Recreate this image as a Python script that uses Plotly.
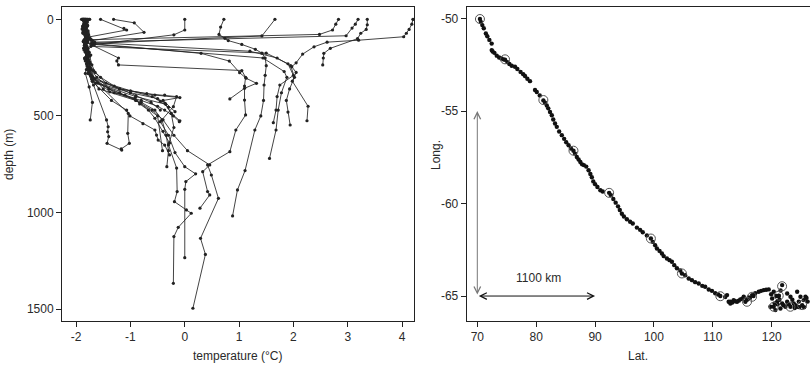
import plotly.graph_objects as go

# ---------------- Left panel: temperature profiles (T in °C, depth in m) -------------
profile_temp = [
    [4.20, 4.18, 4.13, 4.08, 4.03, 3.20, 2.62, 2.38, 2.17, 2.05, 1.97, 2.05, 1.98, 2.27, 2.25],
    [3.36, 3.36, 3.34, 3.24, 3.18, 2.68, 2.56, 2.55, 2.54],
    [3.19, 3.14, 3.08, 2.97, -1.66],
    [2.83, 2.78, 2.72, 2.48, -1.72],
    [1.66, 1.42, -1.68],
    [0.72, 0.66, 0.63, 0.74, 0.80, 1.05, 1.30, 1.42, 1.48, 1.50, 1.48, 1.46, 1.45, 1.40, 1.29, 1.11, 0.97, 0.88],
    [0.00, 0.00, -0.20, -1.70],
    [-1.55, -1.12, -1.07, -1.78],
    [-1.31, -0.93, -0.75, -1.70],
    [-1.84, -1.79, -1.83, -1.76, -1.72, 0.30, 0.82, 1.01, 1.13, 1.32, 1.10, 0.83],
    [-1.80, -1.86, -1.77, -1.82, -1.22, -1.25, -1.22, 1.05, 1.12, 1.10, 1.10, 1.12, 0.94, 0.83, 0.42, 0.49, 0.62, 0.29, 0.38, 0.15],
    [-1.76, -1.82, -1.74, -1.66, 1.44, 1.83, 1.88, 1.78, 1.72, 1.68, 1.56],
    [-1.88, -1.78, -1.70, 1.20, 1.70, 1.95, 2.02, 1.93, 1.87, 1.90, 1.94],
    [-1.83, -1.87, -1.73, 1.50, 1.90, 2.00, 1.75, 1.70, 1.68, 1.63],
    [-1.90, -1.86, -1.89, -1.82, -1.87, -1.80, -1.84, -1.76, -1.70, -1.38, -1.10, -0.92, -0.83, -0.67, -0.55, -0.40, -0.28],
    [-1.85, -1.80, -1.86, -1.78, -1.84, -1.76, -1.80, -1.72, -1.66, -1.20, -0.70, -0.37, -0.15, -0.21, -0.45, -0.30, -0.18, 0.00, 0.20, 0.02, 0.00, 0.00],
    [-1.89, -1.84, -1.87, -1.80, -1.85, -1.79, -1.74, -1.77, -1.60, -1.00, -0.50, -0.36, -0.25, -0.20, -0.30, -0.15, -0.14, -0.19, 0.03, 0.12, -0.12, -0.20, -0.21],
    [-1.82, -1.88, -1.83, -1.86, -1.79, -1.83, -1.76, -1.70, -1.74],
    [-1.87, -1.81, -1.85, -1.79, -1.83, -1.75, -1.78, -1.68, -1.44, -1.41, -1.42, -1.40, -1.43, -1.16],
    [-1.78, -1.85, -1.80, -1.84, -1.77, -1.81, -1.72, -1.50, -1.04, -1.05, -1.02, -1.17],
    [-1.86, -1.83, -1.88, -1.81, -1.85, -1.78, -1.81, -1.70, -1.20, -0.80, -0.55, -0.42, -0.34, -0.30, -0.33],
    [-1.81, -1.87, -1.82, -1.86, -1.80, -1.84, -1.77, -1.71, -1.58, -0.90, -0.50, -0.41],
    [-1.87, -1.82, -1.86, -1.79, -1.84, -1.77, -1.80, -1.73, -1.64, -0.90, -0.35, -0.25, -0.09],
    [-1.75, -1.84, -1.79, -1.85, -1.78, -1.82, -1.74, -1.69, -1.20, -0.55, -0.09, -0.40, -0.18],
    [-1.84, -1.79, -1.85, -1.80, -1.86, -1.79, -1.75, -1.62, -1.30, -0.80, -0.50, -0.37, -0.21, -0.10],
    [-1.88, -1.85, -1.81, -1.86, -1.79, -1.84, -1.76, -1.70, -1.40, -0.90, -0.60, -0.40, -0.20, 0.05, 0.46, 0.33, 0.42, 0.46, 0.28],
    [-1.83, -1.88, -1.82, -1.85, -1.80, -1.83, -1.77, -1.70, -1.35, -1.07, -1.01, -0.77, -0.55, -0.52, -0.49, -0.37, -0.28],
    [-1.79, -1.85, -1.81, -1.86, -1.78, -1.82, -1.75, -1.71, -1.65, -1.45, -1.00, -0.60, -0.45, -0.30],
    [-1.86, -1.80, -1.84, -1.78, -1.83, -1.80, -1.73, -1.77, -1.68, -1.55, -1.30, -0.90, -0.62, -0.45],
]
profile_depth = [
    [0, 25, 52, 72, 90, 108, 118, 142, 180, 225, 245, 275, 320, 450, 525],
    [0, 28, 52, 72, 100, 150, 176, 200, 236],
    [0, 25, 45, 85, 118],
    [0, 25, 55, 78, 105],
    [0, 86, 125],
    [0, 40, 78, 98, 110, 130, 155, 175, 200, 240, 290, 340, 420, 500, 573, 783, 883, 1018],
    [0, 55, 80, 132],
    [0, 47, 55, 92],
    [0, 18, 67, 110],
    [0, 35, 70, 100, 125, 176, 216, 276, 305, 331, 357, 412],
    [0, 40, 80, 118, 200, 215, 236, 265, 300, 345, 418, 495, 573, 685, 754, 806, 927, 1134, 1217, 1496],
    [0, 50, 100, 130, 200, 270, 300, 380, 470, 573, 720],
    [0, 60, 120, 165, 200, 240, 300, 360, 420, 480, 547],
    [0, 60, 140, 175, 230, 290, 340, 400, 470, 535],
    [0, 25, 50, 80, 115, 160, 200, 250, 300, 375, 392, 409, 438, 470, 512, 580, 640],
    [0, 30, 60, 95, 130, 170, 215, 260, 310, 360, 385, 392, 400, 452, 530, 600, 690, 763, 800, 840, 880, 1234],
    [0, 28, 55, 90, 135, 180, 230, 280, 330, 380, 410, 435, 487, 560, 650, 770, 892, 944, 987, 1004, 1077, 1125, 1367],
    [0, 40, 90, 150, 210, 280, 350, 430, 521],
    [0, 35, 75, 120, 170, 220, 280, 340, 521, 556, 582, 607, 642, 677],
    [0, 40, 80, 130, 180, 230, 290, 360, 487, 590, 642, 671],
    [0, 30, 70, 110, 160, 210, 260, 320, 380, 430, 470, 520, 600, 680, 763],
    [0, 35, 75, 115, 160, 205, 255, 310, 360, 420, 500, 680],
    [0, 25, 60, 100, 145, 190, 240, 290, 330, 400, 440, 487, 525],
    [0, 30, 65, 105, 150, 200, 250, 300, 360, 392, 405, 420, 478],
    [0, 30, 65, 105, 150, 200, 250, 300, 380, 420, 450, 470, 500, 530],
    [0, 30, 70, 110, 155, 200, 250, 300, 360, 420, 470, 520, 600, 680, 754, 789, 892, 909, 978],
    [0, 35, 75, 120, 165, 215, 265, 320, 420, 470, 500, 540, 573, 599, 625, 651, 702],
    [0, 20, 45, 75, 110, 150, 190, 235, 275, 330, 370, 400, 425, 455],
    [0, 15, 40, 70, 100, 140, 185, 225, 265, 300, 345, 395, 430, 470],
]
temp_ticks = [-2, -1, 0, 1, 2, 3, 4]
temp_ticktext = ["-2", "-1", "0", "1", "2", "3", "4"]
depth_ticks = [0, 500, 1000, 1500]

# ---------------- Right panel: track positions -------------
track_lat = [
    70.45, 70.6, 70.85, 71.1, 71.45, 71.7, 72.05, 72.44, 72.45, 72.6, 72.9, 73.3, 73.7, 74.1, 74.42,
    74.71, 75.1, 75.45, 75.85, 76.4, 76.8, 77.35, 77.8, 78.1, 78.5, 78.95, 79.8, 80.1, 80.6, 81.22,
    81.5, 81.8, 82.05, 82.35, 82.65, 82.9, 83.2, 83.5, 83.9, 84.35, 84.75, 85.1, 85.5, 85.9, 86.33,
    86.6, 86.9, 87.2, 87.5, 87.8, 88.1, 88.5, 88.9, 89.2, 89.45, 89.7, 90.0, 90.4, 90.9, 91.3,
    92.39, 92.7, 93.1, 93.5, 93.9, 94.2, 94.55, 94.9, 95.4, 95.95, 96.4, 97.1, 97.65, 98.1, 98.8,
    99.48, 99.8, 100.2, 100.5, 100.95, 101.35, 101.65, 102.2, 102.65, 103.05, 103.45, 103.9, 104.45, 104.75, 105.3,
    105.9, 106.45, 107.0, 107.6, 108.2, 108.7, 109.3, 109.85, 110.4, 110.9, 111.27, 112.1, 112.41, 112.69, 112.97,
    113.0, 113.3, 113.54, 113.8, 114.11, 114.4, 114.68, 115.0, 115.24, 115.53, 115.8, 116.09, 116.3, 116.67, 116.9,
    117.2, 117.79, 118.2, 118.64, 119.05, 119.49, 119.9, 120.34, 120.07, 120.34, 120.8, 120.92, 121.2, 121.3, 121.48,
    121.5, 121.77, 121.77, 121.0, 122.0, 122.33, 122.62, 122.62, 122.9, 123.18, 123.18, 123.5, 123.74, 123.9, 124.0,
    124.32, 124.32, 124.6, 124.7, 124.88, 125.17, 125.44, 125.5, 125.73, 125.9, 126.1, 119.78, 120.62, 120.5, 121.19,
]
track_long = [
    -50.02, -50.18, -50.35, -50.52, -50.8, -50.95, -51.15, -51.35, -51.7, -51.78, -51.85, -52.0, -52.1, -52.15, -52.2,
    -52.22, -52.35, -52.45, -52.55, -52.6, -52.72, -52.88, -53.0, -53.1, -53.25, -53.38, -53.86, -53.97, -54.15, -54.42,
    -54.55, -54.7, -54.85, -55.05, -55.22, -55.45, -55.67, -55.85, -56.1, -56.3, -56.5, -56.68, -56.85, -57.02, -57.14,
    -57.3, -57.48, -57.62, -57.75, -57.88, -57.92, -58.0, -58.2, -58.4, -58.58, -58.8, -58.95, -59.1, -59.28, -59.35,
    -59.42, -59.55, -59.75, -59.95, -60.15, -60.35, -60.55, -60.7, -60.85, -60.98, -61.08, -61.3, -61.42, -61.55, -61.72,
    -61.89, -62.07, -62.25, -62.43, -62.56, -62.7, -62.84, -62.97, -63.06, -63.15, -63.33, -63.5, -63.62, -63.78, -63.88,
    -64.05, -64.14, -64.25, -64.32, -64.45, -64.5, -64.65, -64.72, -64.85, -64.92, -65.0, -65.05, -64.95, -65.31, -65.4,
    -65.3, -65.35, -65.22, -65.28, -65.31, -65.25, -65.18, -65.15, -65.04, -65.31, -65.2, -65.08, -65.1, -64.95, -65.0,
    -64.85, -64.77, -64.72, -64.68, -64.66, -64.64, -64.9, -64.77, -65.13, -65.58, -65.0, -65.31, -65.0, -65.2, -65.67,
    -64.7, -64.41, -65.4, -65.45, -65.5, -65.58, -65.31, -64.86, -65.45, -65.04, -65.58, -65.2, -65.4, -65.65, -65.5,
    -64.77, -65.58, -65.3, -65.6, -65.04, -65.49, -65.22, -65.6, -65.04, -65.1, -65.3, -65.58, -65.76, -65.4, -64.98,
]
circle_lat = [70.45, 74.71, 81.22, 86.33, 92.39, 99.48, 104.75, 111.27, 115.8, 116.66, 121.76, 121.19, 120.34, 123.17, 125.16]
circle_long = [-50.02, -52.2, -54.4, -57.14, -59.42, -61.89, -63.78, -65.01, -65.31, -65.04, -64.47, -64.98, -65.58, -65.58, -65.49]
lat_ticks = [70, 80, 90, 100, 110, 120]
long_ticks = [-50, -55, -60, -65]
long_ticktext = ["-50", "-55", "-60", "-65"]
scale_label = "1100 km"

FONT = "Liberation Sans Narrow, Liberation Sans, Arial, Helvetica, sans-serif"
INK = "#222222"
TXT = "#2a2a2a"

fig = go.Figure()
for T, d in zip(profile_temp, profile_depth):
    fig.add_trace(go.Scatter(
        x=T, y=d, mode="lines+markers", xaxis="x", yaxis="y",
        line=dict(color=INK, width=0.85),
        marker=dict(size=3.2, color=INK),
        showlegend=False, hoverinfo="skip"))

fig.add_trace(go.Scatter(
    x=track_lat, y=track_long, mode="markers", xaxis="x2", yaxis="y2",
    marker=dict(size=4.4, color="#111111"), showlegend=False, hoverinfo="skip"))
fig.add_trace(go.Scatter(
    x=circle_lat, y=circle_long, mode="markers", xaxis="x2", yaxis="y2",
    marker=dict(size=9, color="rgba(0,0,0,0)", line=dict(color="#555555", width=1)),
    showlegend=False, hoverinfo="skip"))

W, H = 810, 365
def px_dom(a, b, total):
    return [a / total, b / total]

axis_common = dict(showline=True, mirror=True, linecolor="#222222", linewidth=1,
                   ticks="outside", ticklen=5, tickwidth=1, tickcolor="#222222",
                   showgrid=False, zeroline=False,
                   tickfont=dict(family=FONT, size=12, color=TXT))

fig.update_layout(
    width=W, height=H, margin=dict(l=0, r=0, t=0, b=0),
    paper_bgcolor="white", plot_bgcolor="white",
    xaxis=dict(domain=px_dom(62, 414, W), range=[-2.26, 4.22], tickvals=temp_ticks, ticktext=temp_ticktext,
               anchor="y", **axis_common),
    yaxis=dict(domain=[(H - 321) / H, (H - 7) / H], range=[1562, -64], tickvals=depth_ticks, anchor="x", **axis_common),
    xaxis2=dict(domain=px_dom(466.7, 810, W), range=[68.2, 126.5], tickvals=lat_ticks, anchor="y2", **axis_common),
    yaxis2=dict(domain=[(H - 321) / H, (H - 7) / H], range=[-66.35, -49.37], tickvals=long_ticks,
                ticktext=long_ticktext, anchor="x2", **axis_common),
    showlegend=False,
)

ann = []
tfont = dict(family=FONT, size=12, color=TXT)
ann.append(dict(text="temperature (°C)", x=(62 + 414) / 2 / W, y=(H - 356) / H, xref="paper", yref="paper",
                showarrow=False, font=tfont, xanchor="center", yanchor="middle"))
ann.append(dict(text="depth (m)", x=9 / W, y=(H - 155) / H, xref="paper", yref="paper", textangle=-90,
                showarrow=False, font=tfont, xanchor="center", yanchor="middle"))
ann.append(dict(text="Lat.", x=(466.7 + 810) / 2 / W, y=(H - 356) / H, xref="paper", yref="paper",
                showarrow=False, font=tfont, xanchor="center", yanchor="middle"))
ann.append(dict(text="Long.", x=436 / W, y=(H - 155) / H, xref="paper", yref="paper", textangle=-90,
                showarrow=False, font=tfont, xanchor="center", yanchor="middle"))
ann.append(dict(x=lat_ticks[0], y=long_ticks[1], ax=lat_ticks[0], ay=long_ticks[3], xref="x2", yref="y2",
                axref="x2", ayref="y2", text="", showarrow=True, arrowhead=5, startarrowhead=5,
                arrowside="end+start", arrowsize=1.3, startarrowsize=1.3, arrowwidth=1, arrowcolor="#777777"))
ann.append(dict(x=lat_ticks[2], y=long_ticks[3], ax=lat_ticks[0], ay=long_ticks[3], xref="x2", yref="y2",
                axref="x2", ayref="y2", text="", showarrow=True, arrowhead=5, startarrowhead=5,
                arrowside="end+start", arrowsize=1.3, startarrowsize=1.3, arrowwidth=1, arrowcolor="#111111"))
ann.append(dict(x=80.4, y=-64.05, xref="x2", yref="y2", text=scale_label, showarrow=False, font=tfont))
fig.update_layout(annotations=ann)

fig.write_html("out.html")
